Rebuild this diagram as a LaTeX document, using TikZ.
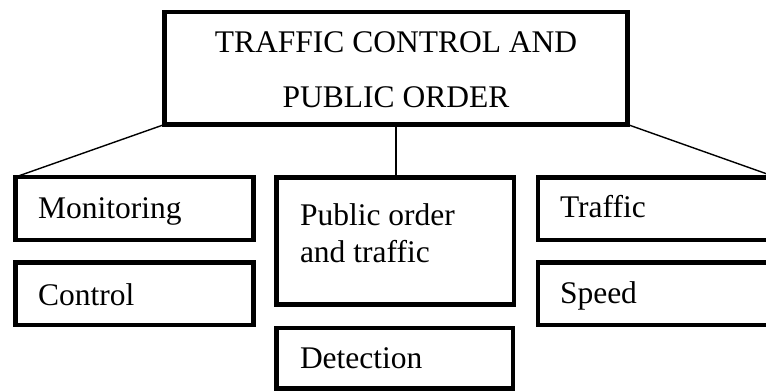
\documentclass[tikz,border=0pt]{standalone}
\usepackage{fontspec}
\setmainfont{Liberation Serif}
\begin{document}
\begin{tikzpicture}[x=1pt,y=-1pt,
  box/.style={draw,line width=4.2pt,inner sep=0pt,outer sep=0pt,rectangle},
  txt/.style={inner sep=0pt,outer sep=0pt,font=\fontsize{31.5}{37}\selectfont},
  link/.style={line width=1.4pt}]
\useasboundingbox (0,0) rectangle (766,391);
\clip (0,0) rectangle (766,391);
% boxes
\node[box,minimum width=463pt,minimum height=112.8pt] (top) at (396,68.1) {};
\node[box,minimum width=238pt,minimum height=63pt] (mon) at (134.5,208.5) {};
\node[box,minimum width=238pt,minimum height=62.5pt] (ctl) at (134.5,293.75) {};
\node[box,minimum width=237.5pt,minimum height=127pt] (pub) at (395.25,241) {};
\node[box,minimum width=236.5pt,minimum height=60.5pt] (det) at (394.75,358.25) {};
\node[box,minimum width=239pt,minimum height=62.5pt] (trf) at (657.5,208.75) {};
\node[box,minimum width=239pt,minimum height=62.5pt] (spd) at (657.5,293.75) {};
% labels
\node[txt,anchor=base] (t1) at (396,52) {TRAFFIC CONTROL AND};
\node[txt,anchor=base] (t2) at (396,107) {PUBLIC ORDER};
\node[txt,anchor=base west] (lmon) at (38,218) {Monitoring};
\node[txt,anchor=base west] (lctl) at (38,305) {Control};
\node[txt,anchor=base west] (lpub1) at (300,225) {Public order};
\node[txt,anchor=base west] (lpub2) at (300,262) {and traffic};
\node[txt,anchor=base west] (ldet) at (300,368) {Detection};
\node[txt,anchor=base west] (ltrf) at (560,217) {Traffic};
\node[txt,anchor=base west] (lspd) at (560,303) {Speed};
% connectors
\draw[link] (top.south west) -- (mon.north west);
\draw[link] (top.south) -- (top.south |- pub.north);
\draw[link] (top.south east) -- (trf.north east);
\end{tikzpicture}
\end{document}
